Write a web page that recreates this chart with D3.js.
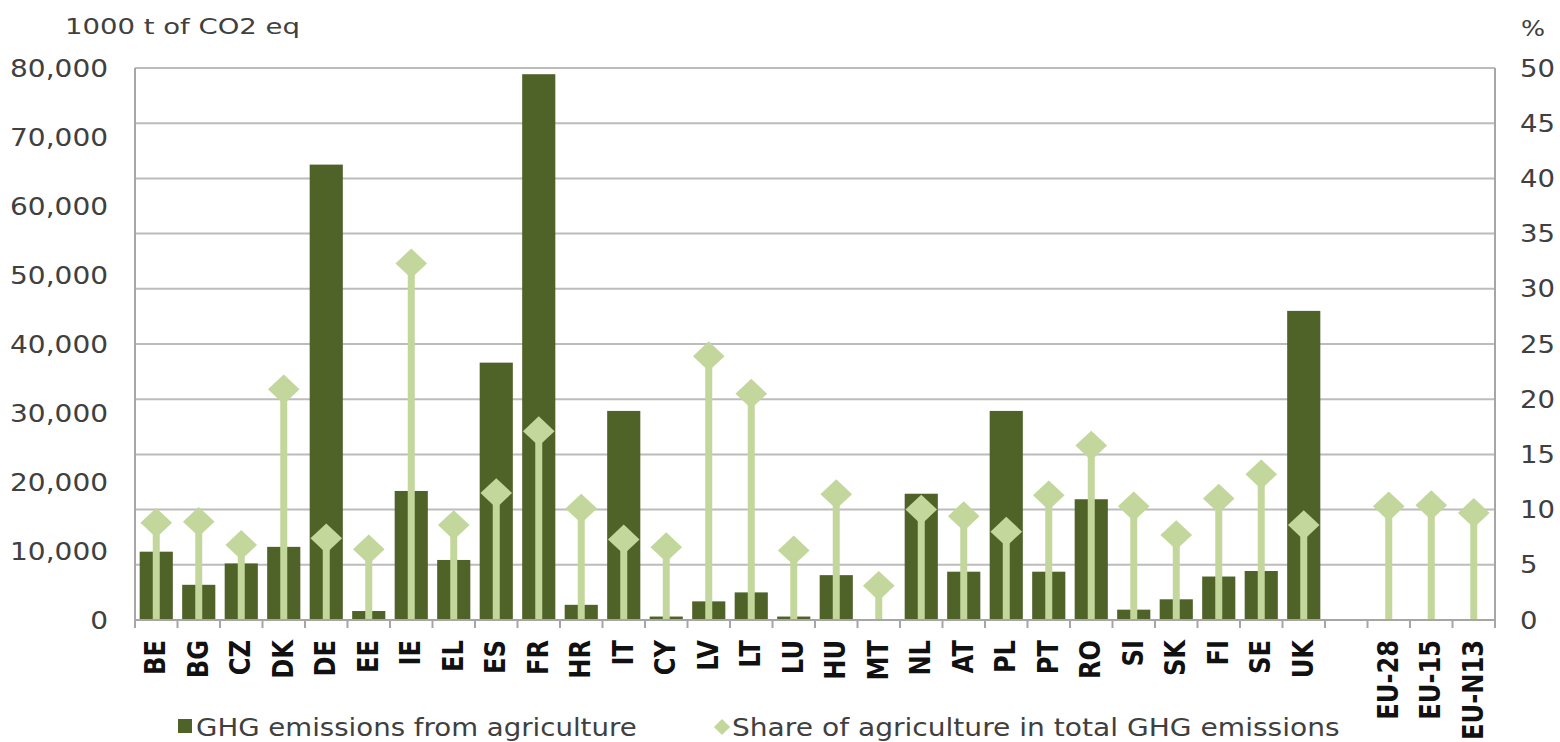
<!DOCTYPE html>
<html>
<head>
<meta charset="utf-8">
<script src="https://cdn.jsdelivr.net/npm/d3@7"></script>
<style>
  body { margin: 0; background: #fff; }
  svg { display: block; }
</style>
</head>
<body>
<svg id="chart" width="1560" height="742"></svg>
<script>
// categories, with a blank slot between UK and the EU aggregates
var countries = ["BE","BG","CZ","DK","DE","EE","IE","EL","ES","FR","HR","IT","CY","LV","LT","LU",
                 "HU","MT","NL","AT","PL","PT","RO","SI","SK","FI","SE","UK","gap","EU-28","EU-15","EU-N13"];

// GHG emissions from agriculture, 1000 t CO2 eq
var emissions = [9900, 5100, 8200, 10600, 66000, 1300, 18700, 8700, 37300, 79100, 2200, 30300, 500, 2700, 4000, 500,
                 6500, 0, 18300, 7000, 30300, 7000, 17500, 1500, 3000, 6300, 7100, 44800, null, null, null, null];

// share of agriculture in total GHG emissions, %
var shares = [8.8, 8.9, 6.8, 20.9, 7.4, 6.4, 32.3, 8.6, 11.5, 17.1, 10.1, 7.3, 6.6, 23.9, 20.5, 6.3,
              11.4, 3.1, 10.0, 9.4, 8.0, 11.3, 15.8, 10.3, 7.7, 11.0, 13.2, 8.6, null, 10.3, 10.4, 9.7];

var leftTicks = [0, 10000, 20000, 30000, 40000, 50000, 60000, 70000, 80000];
var rightTicks = [0, 5, 10, 15, 20, 25, 30, 35, 40, 45, 50];

var dark = "#4f6228", light = "#c3d69b", grid = "#bcbcbc", txt = "#404040";
var font = "DejaVu Sans";

var svg = d3.select("#chart");
var L = 135, R = 1495, T = 68, B = 620;

// the source text is drawn a bit wider than the font's natural width
function stretch( sel, k ){
    sel.each(function(){
        var w = this.getComputedTextLength();
        d3.select(this).attr("textLength", w*k).attr("lengthAdjust", "spacingAndGlyphs");
    });
}

var data = countries.map(function(c, i){
    return { key: c, em: emissions[i], sh: shares[i] };
});

var x = d3.scaleBand().domain(countries).range([L, R]).paddingInner(0.22).paddingOuter(0.11);
var yL = d3.scaleLinear().domain([0, 80000]).range([B, T]);
var yR = d3.scaleLinear().domain([0, 50]).range([B, T]);

// gridlines follow the % axis
svg.append("g").selectAll("line")
    .data(rightTicks.filter(function(d){ return d > 0; }))
    .enter().append("line")
    .attr("x1", L).attr("x2", R)
    .attr("y1", function(d){ return yR(d); }).attr("y2", function(d){ return yR(d); })
    .attr("stroke", grid).attr("stroke-width", 2);

// bars
svg.append("g").selectAll("rect")
    .data(data.filter(function(d){ return d.em != null && d.em > 0; }))
    .enter().append("rect")
    .attr("x", function(d){ return x(d.key); })
    .attr("width", x.bandwidth())
    .attr("y", function(d){ return yL(d.em); })
    .attr("height", function(d){ return B - yL(d.em); })
    .attr("fill", dark);

// stems + diamonds for the share
var pts = data.filter(function(d){ return d.sh != null; });
var cx = function(d){ return x(d.key) + x.bandwidth()/2; };

svg.append("g").selectAll("line")
    .data(pts)
    .enter().append("line")
    .attr("x1", cx).attr("x2", cx)
    .attr("y1", B).attr("y2", function(d){ return yR(d.sh); })
    .attr("stroke", light).attr("stroke-width", 7);

var diamond = d3.symbol().type(d3.symbolSquare).size(500);
svg.append("g").selectAll("path")
    .data(pts)
    .enter().append("path")
    .attr("d", diamond)
    .attr("fill", light)
    .attr("transform", function(d){ return "translate(" + cx(d) + "," + yR(d.sh) + ") scale(1,0.94) rotate(45)"; });

// axis lines
svg.append("line").attr("x1", L).attr("x2", L).attr("y1", T).attr("y2", B).attr("stroke", "#a6a6a6").attr("stroke-width", 2);
svg.append("line").attr("x1", R).attr("x2", R).attr("y1", T).attr("y2", B).attr("stroke", "#a6a6a6").attr("stroke-width", 2);

// bottom axis: ticks on band boundaries
var xAxis = svg.append("g").attr("transform", "translate(0," + B + ")");
xAxis.append("line").attr("x1", L).attr("x2", R).attr("stroke", "#a6a6a6").attr("stroke-width", 2);
var step = x.step();
xAxis.selectAll("line.tk")
    .data(d3.range(countries.length + 1))
    .enter().append("line").attr("class", "tk")
    .attr("x1", function(i){ return L + i*step; }).attr("x2", function(i){ return L + i*step; })
    .attr("y1", 0).attr("y2", 8)
    .attr("stroke", "#a6a6a6").attr("stroke-width", 2);

xAxis.selectAll("text")
    .data(countries)
    .enter().append("text")
    .attr("transform", function(d){ return "translate(" + (x(d) + x.bandwidth()/2 + 9) + ",20) rotate(-90) scale(1.05,1.2)"; })
    .attr("text-anchor", "end")
    .attr("font-family", font).attr("font-weight", "bold").attr("font-size", "23px")
    .attr("fill", "#111")
    .text(function(d){ return d == "gap" ? "" : d; });

// left axis
var gl = svg.append("g").attr("transform", "translate(" + L + ",0)")
    .call(d3.axisLeft(yL).tickValues(leftTicks).tickFormat(d3.format(",")).tickSize(0).tickPadding(27));
gl.select(".domain").remove();
gl.selectAll("text").attr("font-family", font).attr("font-size", "25px").attr("fill", txt).call(stretch, 1.12);

// right axis
var gr = svg.append("g").attr("transform", "translate(" + R + ",0)")
    .call(d3.axisRight(yR).tickValues(rightTicks).tickSize(0).tickPadding(25));
gr.select(".domain").remove();
gr.selectAll("text").attr("font-family", font).attr("font-size", "25px").attr("fill", txt).call(stretch, 1.1);

svg.append("text").attr("x", 65).attr("y", 34)
    .attr("font-family", font).attr("font-size", "22px").attr("fill", txt)
    .text("1000 t of CO2 eq").call(stretch, 1.25);
svg.append("text").attr("x", 1521).attr("y", 36)
    .attr("font-family", font).attr("font-size", "22px").attr("fill", txt)
    .text("%").call(stretch, 1.15);

// legend
var lg = svg.append("g");
lg.append("rect").attr("x", 178).attr("y", 719).attr("width", 14).attr("height", 14).attr("fill", dark);
lg.append("text").attr("x", 196).attr("y", 736)
    .attr("font-family", font).attr("font-size", "24px").attr("fill", txt)
    .text("GHG emissions from agriculture").call(stretch, 1.15);
lg.append("path").attr("d", d3.symbol().type(d3.symbolSquare).size(130))
    .attr("fill", light).attr("transform", "translate(722,727) rotate(45)");
lg.append("text").attr("x", 732).attr("y", 736)
    .attr("font-family", font).attr("font-size", "24px").attr("fill", txt)
    .text("Share of agriculture in total GHG emissions").call(stretch, 1.17);
</script>
</body>
</html>
